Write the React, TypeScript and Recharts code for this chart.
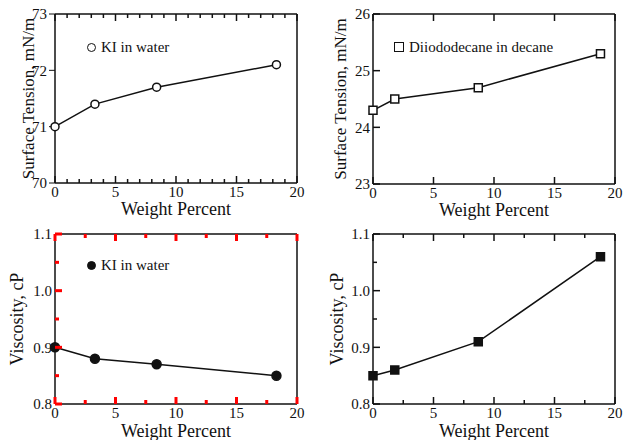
import React from 'react';
import { ComposedChart, Line, Scatter, XAxis, YAxis, Legend } from 'recharts';

// KI in water
const kiWeight = [0, 3.3, 8.4, 18.3];
const kiSurfaceTension = [71.0, 71.4, 71.7, 72.1];
const kiViscosity = [0.9, 0.88, 0.87, 0.85];

// Diiododecane in decane
const diiodoWeight = [0, 1.8, 8.7, 18.8];
const diiodoSurfaceTension = [24.3, 24.5, 24.7, 25.3];
const diiodoViscosity = [0.85, 0.86, 0.91, 1.06];

// axis ticks
const weightMajor = [0, 5, 10, 15, 20];
const weightMinorOne = [0, 1, 2, 3, 4, 5, 6, 7, 8, 9, 10, 11, 12, 13, 14, 15, 16, 17, 18, 19, 20];
const weightMinorHalf = [0, 2.5, 5, 7.5, 10, 12.5, 15, 17.5, 20];
const kiTensionMajor = [70, 71, 72, 73];
const kiTensionAll = [70, 70.5, 71, 71.5, 72, 72.5, 73];
const diiodoTensionMajor = [23, 24, 25, 26];
const diiodoTensionAll = [23, 23.5, 24, 24.5, 25, 25.5, 26];
const viscosityMajor = [0.8, 0.9, 1.0, 1.1];
const viscosityAll = [0.8, 0.85, 0.9, 0.95, 1.0, 1.05, 1.1];

const INK = '#111';
const FONT = '"Liberation Serif", "DejaVu Serif", serif';
const MAJOR_LEN = 7;
const MINOR_LEN = 4;
const GAP = 3;

type Side = 'bottom' | 'top' | 'left' | 'right';
type Marker = 'openCircle' | 'openSquare' | 'circle' | 'square';

const isMajor = (majors: number[], v: number) => majors.some((m) => Math.abs(m - v) < 1e-6);

const makeTick = (side: Side, majors: number[], fmt: (v: number) => string, color: string, sw: number) => (props: any) => {
  const x = props.x;
  const y = props.y;
  const v = Number(props.payload.value);
  const major = isMajor(majors, v);
  const len = major ? MAJOR_LEN : MINOR_LEN;
  let x1 = x;
  let y1 = y;
  let x2 = x;
  let y2 = y;
  let label = null;
  if (side === 'bottom') {
    y1 = y - GAP;
    y2 = y1 - len;
    if (major) {
      label = (
        <text x={x} y={y} dy="0.71em" textAnchor="middle" fontFamily={FONT} fontSize={15} fill={INK}>
          {fmt(v)}
        </text>
      );
    }
  } else if (side === 'top') {
    y2 = y + len;
  } else if (side === 'left') {
    x1 = x + GAP;
    x2 = x1 + len;
    if (major) {
      label = (
        <text x={x} y={y} dy="0.355em" textAnchor="end" fontFamily={FONT} fontSize={15} fill={INK}>
          {fmt(v)}
        </text>
      );
    }
  } else {
    x2 = x - len;
  }
  return (
    <g key={`k-${side}-${props.index}`}>
      <line x1={x1} y1={y1} x2={x2} y2={y2} stroke={color} strokeWidth={sw} />
      {label}
    </g>
  );
};

interface PanelProps {
  left: number;
  top: number;
  plotLeft: number;
  marginRight: number;
  bottomHeight: number;
  weights: number[];
  values: number[];
  name: string;
  marker: Marker;
  xTicks: number[];
  yTicks: number[];
  yMajor: number[];
  yDomain: [number, number];
  yFmt: (v: number) => string;
  yLabel: string;
  yLabelX: number;
  labelFontSize: number;
  xLabelOffset: number;
  legendX: number;
  legendY: number;
  defaultLeft?: boolean;
  tickColor?: string;
  tickWidth?: number;
  noLegend?: boolean;
}

const Panel: React.FC<PanelProps> = (p) => {
  const rows = p.weights.map((w, i) => ({ w, v: p.values[i] }));
  const intFmt = (v: number) => String(v);
  const open = p.marker === 'openCircle' || p.marker === 'openSquare';
  const round = p.marker === 'openCircle' || p.marker === 'circle';
  const fill = open ? '#fff' : INK;
  const tc = p.tickColor ?? INK;
  const tw = p.tickWidth ?? 1.5;
  return (
    <div style={{ position: 'absolute', left: p.left, top: p.top, width: 312, height: 220 }}>
      <ComposedChart width={312} height={220} data={rows} margin={{ top: 14, right: p.marginRight, bottom: 0, left: 0 }}>
        <XAxis
          xAxisId="b"
          dataKey="w"
          type="number"
          domain={[0, 20]}
          ticks={p.xTicks}
          interval={0}
          height={p.bottomHeight}
          tickSize={0}
          tickMargin={GAP}
          tickLine={false}
          axisLine={{ stroke: INK, strokeWidth: 1.5 }}
          tick={makeTick('bottom', weightMajor, intFmt, tc, tw)}
          label={{
            value: 'Weight Percent',
            position: 'insideBottom',
            offset: p.xLabelOffset,
            style: { fontFamily: FONT, fontSize: 18, fill: INK },
          }}
        />
        <XAxis
          xAxisId="t"
          orientation="top"
          mirror
          dataKey="w"
          type="number"
          domain={[0, 20]}
          ticks={p.xTicks}
          interval={0}
          tickSize={0}
          tickMargin={0}
          tickLine={false}
          axisLine={{ stroke: INK, strokeWidth: 1.5 }}
          tick={makeTick('top', weightMajor, intFmt, tc, tw)}
        />
        {p.defaultLeft ? (
          <YAxis
            yAxisId="l"
            type="number"
            domain={p.yDomain}
            ticks={p.yMajor}
            width={p.plotLeft}
            tickFormatter={p.yFmt}
            axisLine={{ stroke: INK, strokeWidth: 1.5 }}
            tick={{ fontFamily: FONT, fontSize: 15, fill: INK }}
            stroke={INK}
            label={{
              value: p.yLabel,
              angle: -90,
              position: 'insideLeft',
              offset: p.yLabelX - 0.355 * p.labelFontSize,
              style: { fontFamily: FONT, fontSize: p.labelFontSize, fill: INK, textAnchor: 'middle' },
            }}
          />
        ) : (
          <YAxis
            yAxisId="l"
            type="number"
            domain={p.yDomain}
            ticks={p.yTicks}
            interval={0}
            width={p.plotLeft}
            tickSize={0}
            tickMargin={GAP}
            tickLine={false}
            axisLine={{ stroke: INK, strokeWidth: 1.5 }}
            tick={makeTick('left', p.yMajor, p.yFmt, tc, tw)}
            label={{
              value: p.yLabel,
              angle: -90,
              position: 'insideLeft',
              offset: p.yLabelX - 0.355 * p.labelFontSize,
              style: { fontFamily: FONT, fontSize: p.labelFontSize, fill: INK, textAnchor: 'middle' },
            }}
          />
        )}
        <YAxis
          yAxisId="r"
          orientation="right"
          mirror
          type="number"
          domain={p.yDomain}
          ticks={p.yTicks}
          interval={0}
          tickSize={0}
          tickMargin={0}
          tickLine={false}
          axisLine={{ stroke: INK, strokeWidth: 1.5 }}
          tick={makeTick('right', p.yMajor, p.yFmt, tc, tw)}
        />
        {!p.noLegend && (
          <Legend
            layout="horizontal"
            verticalAlign="middle"
            align="center"
            wrapperStyle={{ left: p.legendX, top: p.legendY, width: 'auto' }}
            content={() => (
              <div style={{ display: 'flex', alignItems: 'center', fontFamily: FONT, fontSize: 15, lineHeight: '16px', color: INK, whiteSpace: 'nowrap' }}>
                <div
                  style={{
                    width: round ? 9 : 10,
                    height: round ? 9 : 10,
                    boxSizing: 'border-box',
                    border: `1.5px solid ${INK}`,
                    borderRadius: round ? '50%' : 0,
                    background: fill,
                  }}
                />
                <span style={{ marginLeft: 5 }}>{p.name}</span>
              </div>
            )}
          />
        )}
        <Line
          xAxisId="b"
          yAxisId="l"
          dataKey="v"
          name={p.name}
          stroke={INK}
          strokeWidth={1.5}
          isAnimationActive={false}
          dot={round ? { r: p.marker === 'circle' ? 4.5 : 4, fill, stroke: INK, strokeWidth: 1.5 } : false}
        />
        {!round && (
          <Scatter
            xAxisId="b"
            yAxisId="l"
            dataKey="v"
            name={p.name}
            shape="square"
            fill={fill}
            stroke={INK}
            strokeWidth={1.5}
            isAnimationActive={false}
          />
        )}
      </ComposedChart>
    </div>
  );
};

const fixed1 = (v: number) => v.toFixed(1);

export default function App() {
  return (
    <div style={{ position: 'absolute', left: 0, top: 0, width: 624, height: 440, background: '#fff' }}>
      <Panel
        left={0}
        top={0}
        plotLeft={55}
        marginRight={15}
        bottomHeight={37}
        weights={kiWeight}
        values={kiSurfaceTension}
        name="KI in water"
        marker="openCircle"
        xTicks={weightMinorOne}
        yTicks={kiTensionAll}
        yMajor={kiTensionMajor}
        yDomain={[70, 73]}
        yFmt={(v) => String(v)}
        yLabel="Surface Tension, mN/m"
        yLabelX={34}
        labelFontSize={17}
        xLabelOffset={5}
        legendX={87}
        legendY={39}
        defaultLeft
      />
      <Panel
        left={312}
        top={0}
        plotLeft={61}
        marginRight={9}
        bottomHeight={36}
        weights={diiodoWeight}
        values={diiodoSurfaceTension}
        name="Diiododecane in decane"
        marker="openSquare"
        xTicks={weightMajor}
        yTicks={diiodoTensionMajor}
        yMajor={diiodoTensionMajor}
        yDomain={[23, 26]}
        yFmt={(v) => String(v)}
        yLabel="Surface Tension, mN/m"
        yLabelX={34}
        labelFontSize={17}
        xLabelOffset={4}
        legendX={82}
        legendY={39}
      />
      <Panel
        left={0}
        top={220}
        plotLeft={55}
        marginRight={15}
        bottomHeight={36}
        weights={kiWeight}
        values={kiViscosity}
        name="KI in water"
        marker="circle"
        xTicks={weightMinorHalf}
        yTicks={viscosityAll}
        yMajor={viscosityMajor}
        yDomain={[0.8, 1.1]}
        yFmt={fixed1}
        yLabel="Viscosity, cP"
        yLabelX={23}
        labelFontSize={18}
        xLabelOffset={3}
        legendX={87}
        legendY={37}
        tickColor="red"
        tickWidth={3}
      />
      <Panel
        left={312}
        top={220}
        plotLeft={61}
        marginRight={9}
        bottomHeight={36}
        weights={diiodoWeight}
        values={diiodoViscosity}
        name="Diiododecane in decane"
        marker="square"
        xTicks={weightMinorHalf}
        yTicks={viscosityAll}
        yMajor={viscosityMajor}
        yDomain={[0.8, 1.1]}
        yFmt={fixed1}
        yLabel="Viscosity, cP"
        yLabelX={31}
        labelFontSize={18}
        xLabelOffset={3}
        legendX={82}
        legendY={37}
        noLegend
      />
    </div>
  );
}
